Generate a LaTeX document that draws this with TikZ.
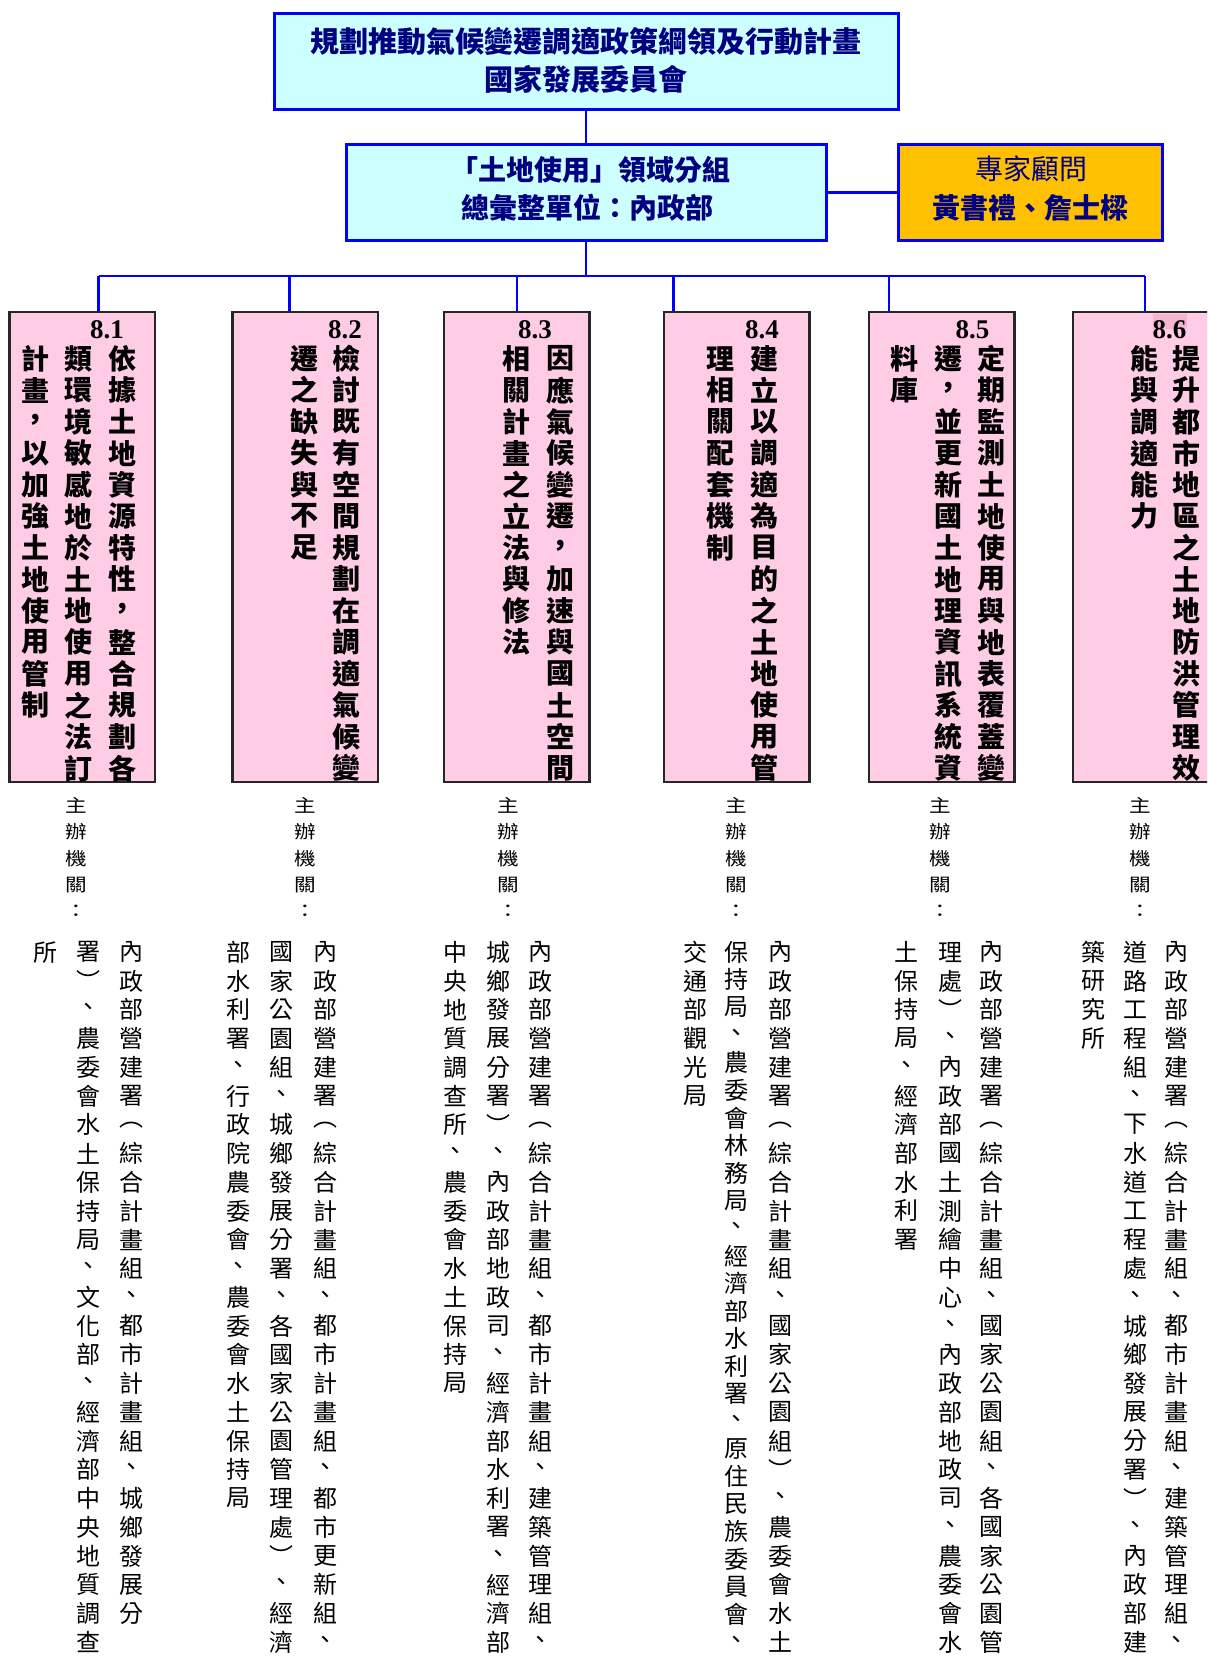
\documentclass[tikz,border=0pt]{standalone}
\usepackage{fontspec}
\newfontfamily\cjk{Noto Sans CJK TC}
\newfontfamily\tnr{Liberation Serif}
\definecolor{navy}{HTML}{000080}
\definecolor{cyanfill}{HTML}{CCFFFF}
\definecolor{bluel}{HTML}{0000FF}
\definecolor{orangefill}{HTML}{FFC000}
\definecolor{pinkfill}{HTML}{FFCCE5}
\definecolor{pinkdark}{HTML}{F4B4D2}
\newdimen\vsP \newdimen\vsW
\def\vsloop#1{%
  \ifx#1\relax\else
    \vsput{#1}%
    \expandafter\vsloop
  \fi}
\def\vsput#1{\hbox to\vsW{\hss\vbox to \vsP{\vss\hbox{#1}\vss}\hss}}
\newcommand\vstack[3]{\vbox{\offinterlineskip\vsP=#1\relax\vsW=#2\relax\vsloop#3\relax}}
\begin{document}
\begin{tikzpicture}[x=1pt,y=-1pt,
  bluebox/.style={draw=bluel, line width=3pt, fill=cyanfill, inner sep=0pt},
  orangebox/.style={draw=bluel, line width=3pt, fill=orangefill, inner sep=0pt},
  pinkbox/.style={draw=black!85, line width=2.5pt, fill=pinkfill, inner sep=0pt, minimum width=145.5pt, minimum height=470pt},
  conn/.style={draw=bluel, line width=2.5pt},
  connthin/.style={draw=bluel, line width=1.6pt},
  headtext/.style={text=navy, inner sep=0pt, font=\cjk\bfseries\fontsize{29}{29}\selectfont},
  subtext/.style={text=navy, inner sep=0pt, font=\cjk\bfseries\fontsize{28}{28}\selectfont},
  advtext/.style={text=navy, inner sep=0pt, font=\cjk\fontsize{28}{28}\selectfont},
  coltext/.style={anchor=north, inner sep=0pt, font=\cjk\bfseries\fontsize{28}{28}\selectfont},
  numtext/.style={anchor=base, inner sep=0pt, font=\tnr\bfseries\fontsize{27}{27}\selectfont},
  orgtext/.style={anchor=north, inner sep=0pt, font=\cjk\fontsize{24}{24}\selectfont},
  lbltext/.style={anchor=north, inner sep=0pt, font=\cjk\fontsize{18}{18}\selectfont}]
\useasboundingbox (0,0) rectangle (1207,1656);
\clip (0,0) rectangle (1207,1656);
\fill[white] (0,0) rectangle (1207,1656);

% connector coordinates
\coordinate (bar) at (586,276);
\coordinate (d1) at (98.5,276);
\coordinate (d2) at (289.5,276);
\coordinate (d3) at (517,276);
\coordinate (d4) at (673.6,276);
\coordinate (d5) at (889,276);
\coordinate (d6) at (1145,276);

% boxes
\node[bluebox, minimum width=624pt, minimum height=96pt] (top) at (586,62) {};
\node[bluebox, minimum width=480pt, minimum height=95pt] (grp) at (586,192.5) {};
\node[orangebox, minimum width=264pt, minimum height=95pt] (adv) at (1030,192.5) {};

\node[pinkbox] (b1) at (82.25,547) {};
\node[pinkbox] (b2) at (305,547) {};
\node[pinkbox] (b3) at (516.5,547) {};
\node[pinkbox] (b4) at (736.75,547) {};
\node[pinkbox] (b5) at (941.5,547) {};
\node[pinkbox] (b6) at (1145.75,547) {};

% connectors
\draw[conn] (top.south) -- (grp.north);
\draw[conn] (grp.east) -- (adv.west);
\draw[conn] (grp.south) -- (bar);
\draw[conn] (d1) -- (d5);
\draw[connthin] (d5) -- (d6);
\draw[conn] (d1) -- (d1 |- b1.north);
\draw[conn] (d2) -- (d2 |- b2.north);
\draw[conn] (d3) -- (d3 |- b3.north);
\draw[conn] (d4) -- (d4 |- b4.north);
\draw[connthin] (d5) -- (d5 |- b5.north);
\draw[connthin] (d6) -- (d6 |- b6.north);

% header texts
\node[headtext] (tl1) at (586,41) {規劃推動氣候變遷調適政策綱領及行動計畫};
\node[headtext] (tl2) at (586,79) {國家發展委員會};
\node[subtext] (gl1) at (590,170) {「土地使用」領域分組};
\node[subtext] (gl2) at (587,208) {總彙整單位：內政部};
\node[advtext] (al1) at (1031,169) {專家顧問};
\node[subtext] (al2) at (1030,208) {黃書禮、詹士樑};

% 8.6 highlight
\fill[pinkdark] (1153,313.5) rectangle (1187,329);

% numbers
\node[numtext] (n1) at (107,338) {8.1};
\node[numtext] (n2) at (345,338) {8.2};
\node[numtext] (n3) at (535,338) {8.3};
\node[numtext] (n4) at (762,338) {8.4};
\node[numtext] (n5) at (972.6,338) {8.5};
\node[numtext] (n6) at (1169.6,338) {8.6};

% pink box columns
\node[coltext] (b1c1) at (122.5,342.75) {\vstack{31.5pt}{30pt}{依據土地資源特性，整合規劃各}};
\node[coltext] (b1c2) at (78.5,342.75) {\vstack{31.5pt}{30pt}{類環境敏感地於土地使用之法訂}};
\node[coltext] (b1c3) at (35,342.75) {\vstack{31.5pt}{30pt}{計畫，以加強土地使用管制}};
\node[coltext] (b2c1) at (346.3,342.75) {\vstack{31.5pt}{30pt}{檢討既有空間規劃在調適氣候變}};
\node[coltext] (b2c2) at (304.2,342.75) {\vstack{31.5pt}{30pt}{遷之缺失與不足}};
\node[coltext] (b3c1) at (560.6,342.75) {\vstack{31.5pt}{30pt}{因應氣候變遷，加速與國土空間}};
\node[coltext] (b3c2) at (516.6,342.75) {\vstack{31.5pt}{30pt}{相關計畫之立法與修法}};
\node[coltext] (b4c1) at (764.5,342.75) {\vstack{31.5pt}{30pt}{建立以調適為目的之土地使用管}};
\node[coltext] (b4c2) at (720,342.75) {\vstack{31.5pt}{30pt}{理相關配套機制}};
\node[coltext] (b5c1) at (991,342.75) {\vstack{31.5pt}{30pt}{定期監測土地使用與地表覆蓋變}};
\node[coltext] (b5c2) at (948.4,342.75) {\vstack{31.5pt}{30pt}{遷，並更新國土地理資訊系統資}};
\node[coltext] (b5c3) at (904,342.75) {\vstack{31.5pt}{30pt}{料庫}};
\node[coltext] (b6c1) at (1186.5,342.75) {\vstack{31.5pt}{30pt}{提升都市地區之土地防洪管理效}};
\node[coltext] (b6c2) at (1144,342.75) {\vstack{31.5pt}{30pt}{能與調適能力}};

% labels
\node[lbltext] (l1) at (76.7,791.75) {\scalebox{1.2}[1]{\vstack{26.5pt}{20pt}{主辦機關：}}};
\node[lbltext] (l2) at (305,791.75) {\scalebox{1.2}[1]{\vstack{26.5pt}{20pt}{主辦機關：}}};
\node[lbltext] (l3) at (508,791.75) {\scalebox{1.2}[1]{\vstack{26.5pt}{20pt}{主辦機關：}}};
\node[lbltext] (l4) at (736.7,791.75) {\scalebox{1.2}[1]{\vstack{26.5pt}{20pt}{主辦機關：}}};
\node[lbltext] (l5) at (940,791.75) {\scalebox{1.2}[1]{\vstack{26.5pt}{20pt}{主辦機關：}}};
\node[lbltext] (l6) at (1140,791.75) {\scalebox{1.2}[1]{\vstack{26.5pt}{20pt}{主辦機關：}}};

% organisations
\node[orgtext] (g1c1) at (131.7,937.6) {\vstack{28.75pt}{26pt}{內政部營建署︵綜合計畫組、都市計畫組、城鄉發展分}};
\node[orgtext] (g1c2) at (88.3,937.6) {\vstack{28.75pt}{26pt}{署︶、農委會水土保持局、文化部、經濟部中央地質調查}};
\node[orgtext] (g1c3) at (45,937.6) {\vstack{28.75pt}{26pt}{所}};
\node[orgtext] (g2c1) at (325,937.6) {\vstack{28.75pt}{26pt}{內政部營建署︵綜合計畫組、都市計畫組、都市更新組、}};
\node[orgtext] (g2c2) at (281.7,937.6) {\vstack{28.75pt}{26pt}{國家公園組、城鄉發展分署、各國家公園管理處︶、經濟}};
\node[orgtext] (g2c3) at (238.3,937.6) {\vstack{28.75pt}{26pt}{部水利署、行政院農委會、農委會水土保持局}};
\node[orgtext] (g3c1) at (540,937.6) {\vstack{28.75pt}{26pt}{內政部營建署︵綜合計畫組、都市計畫組、建築管理組、}};
\node[orgtext] (g3c2) at (498.3,937.6) {\vstack{28.75pt}{26pt}{城鄉發展分署︶、內政部地政司、經濟部水利署、經濟部}};
\node[orgtext] (g3c3) at (455,937.6) {\vstack{28.75pt}{26pt}{中央地質調查所、農委會水土保持局}};
\node[orgtext] (g4c1) at (780,937.6) {\vstack{28.75pt}{26pt}{內政部營建署︵綜合計畫組、國家公園組︶、農委會水土}};
\node[orgtext] (g4c2) at (736.7,938.2) {\vstack{27.6pt}{26pt}{保持局、農委會林務局、經濟部水利署、原住民族委員會、}};
\node[orgtext] (g4c3) at (695,937.6) {\vstack{28.75pt}{26pt}{交通部觀光局}};
\node[orgtext] (g5c1) at (991.7,937.6) {\vstack{28.75pt}{26pt}{內政部營建署︵綜合計畫組、國家公園組、各國家公園管}};
\node[orgtext] (g5c2) at (950,937.6) {\vstack{28.75pt}{26pt}{理處︶、內政部國土測繪中心、內政部地政司、農委會水}};
\node[orgtext] (g5c3) at (906.7,937.6) {\vstack{28.75pt}{26pt}{土保持局、經濟部水利署}};
\node[orgtext] (g6c1) at (1176.7,937.6) {\vstack{28.75pt}{26pt}{內政部營建署︵綜合計畫組、都市計畫組、建築管理組、}};
\node[orgtext] (g6c2) at (1135,937.6) {\vstack{28.75pt}{26pt}{道路工程組、下水道工程處、城鄉發展分署︶、內政部建}};
\node[orgtext] (g6c3) at (1093.3,937.6) {\vstack{28.75pt}{26pt}{築研究所}};
\end{tikzpicture}
\end{document}
